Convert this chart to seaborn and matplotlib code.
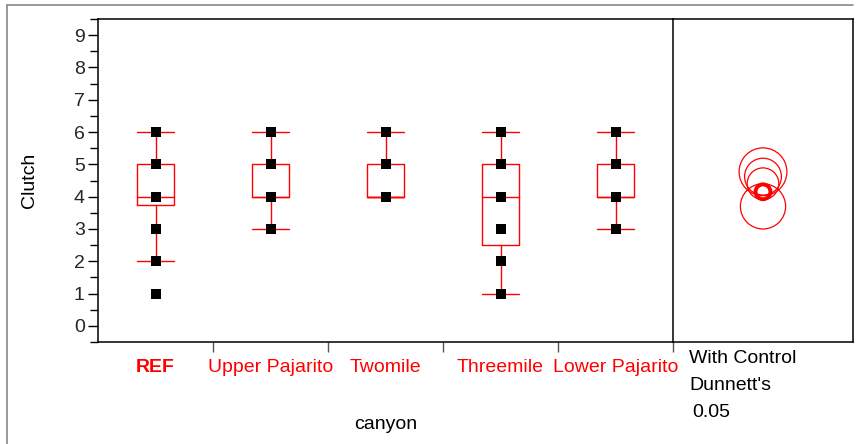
import numpy as np
import pandas as pd
import matplotlib
matplotlib.use("Agg")
import matplotlib.pyplot as plt
from matplotlib.lines import Line2D
from matplotlib.patches import Circle
import seaborn as sns

# ---- data ----
canyons = ["REF", "Upper Pajarito", "Twomile", "Threemile", "Lower Pajarito"]
pts_ref = [1, 2, 3, 4, 5, 6]
pts_upper = [3, 4, 5, 6]
pts_two = [4, 5, 6]
pts_three = [1, 2, 3, 4, 5, 6]
pts_lower = [3, 4, 5, 6]

q1 = [3.75, 4, 4, 2.5, 4]
med = [4, 4, 4, 4, 4]
q3 = [5, 5, 5, 5, 5]
whislo = [2, 3, 4, 1, 3]
whishi = [6, 6, 6, 6, 6]

circle_means = [4.77, 4.62, 4.40, 3.70, 4.15]
circle_radii = [0.74, 0.57, 0.49, 0.70, 0.23]
circle_bold = [False, False, False, False, True]

yticks = list(range(0, 10))

# ---- style ----
sns.set_theme(style="white")
plt.rcParams["font.family"] = ["Liberation Sans", "DejaVu Sans"]
FS = 14
RED = "#ff0000"

W, H = 857, 444
fig = plt.figure(figsize=(W / 100, H / 100), dpi=100)

L, R, T, B = 98, 673, 19, 342
R2 = 853
ax = fig.add_axes([L / W, 1 - B / H, (R - L) / W, (B - T) / H])
ax2 = fig.add_axes([R / W, 1 - B / H, (R2 - R) / W, (B - T) / H])

# points via seaborn
groups = [pts_ref, pts_upper, pts_two, pts_three, pts_lower]
df = pd.DataFrame({
    "canyon": [c for c, g in zip(canyons, groups) for _ in g],
    "Clutch": [v for g in groups for v in g],
})
sns.stripplot(data=df, x="canyon", y="Clutch", order=canyons, jitter=False,
              marker="s", color="black", size=7.5, linewidth=0, ax=ax, zorder=5)

# boxes
stats = []
for i in range(len(canyons)):
    stats.append(dict(med=med[i], q1=q1[i], q3=q3[i], whislo=whislo[i],
                      whishi=whishi[i], fliers=[]))
lp = dict(color=RED, linewidth=1.0)
ax.bxp(stats, positions=list(range(len(canyons))), widths=0.33, capwidths=0.33,
       showfliers=False, manage_ticks=False, boxprops=lp, whiskerprops=lp,
       capprops=lp, medianprops=lp, zorder=2)

ax.set_xlim(-0.5, len(canyons) - 0.5)
ax.set_ylim(-0.5, 9.5)
ax.set_xlabel("")
ax.set_ylabel("")

# y ticks
ax.set_yticks(yticks)
ax.set_yticks(np.arange(-0.5, 9.6, 1.0), minor=True)
ax.tick_params(axis="y", which="major", left=True, length=7.5, width=1.0,
               color="black", labelsize=FS, pad=2)
ax.tick_params(axis="y", which="minor", left=True, length=5.5, width=1.0,
               color="black")

# x ticks: boundaries as major ticks, labels at minor positions
ax.set_xticks(np.arange(0.5, len(canyons) - 0.5 + 0.01, 1.0))
ax.set_xticklabels([])
ax.set_xticks(range(len(canyons)), minor=True)
ax.set_xticklabels(canyons, minor=True)
ax.tick_params(axis="x", which="major", bottom=True, length=7.5, width=1.0,
               color="#555555")
ax.tick_params(axis="x", which="minor", bottom=True, length=0, pad=12.5,
               labelsize=FS, labelcolor=RED)
for lab in ax.get_xticklabels(minor=True):
    if lab.get_text() == "REF":
        lab.set_fontweight("bold")

for sp in ["top", "left", "bottom"]:
    ax.spines[sp].set_visible(True)
    ax.spines[sp].set_color("black")
    ax.spines[sp].set_linewidth(1.1)
ax.spines["right"].set_visible(False)

# comparison circles panel
scale = (B - T) / 10.0  # px per unit
ax2.set_xlim(0, (R2 - R) / scale)
ax2.set_ylim(-0.5, 9.5)
cx = (R2 - R) / scale / 2
for m, r, bold in zip(circle_means, circle_radii, circle_bold):
    ax2.add_patch(Circle((cx, m), r, fill=False, edgecolor=RED,
                         linewidth=2.8 if bold else 0.9))
ax2.set_xticks([])
ax2.set_yticks([])
for sp in ax2.spines.values():
    sp.set_visible(True)
    sp.set_color("black")
    sp.set_linewidth(1.1)

# texts
fig.text(30 / W, 1 - 180 / H, "Clutch", rotation=90, ha="center", va="center",
         fontsize=FS, color="black")
fig.text(385.5 / W, 1 - 424 / H, "canyon", ha="center", va="center",
         fontsize=FS, color="black")
fig.text(689 / W, 1 - 358 / H, "With Control", ha="left", va="center",
         fontsize=FS, color="black")
fig.text(689 / W, 1 - 385 / H, "Dunnett's", ha="left", va="center",
         fontsize=FS, color="black")
fig.text(692 / W, 1 - 412 / H, "0.05", ha="left", va="center",
         fontsize=FS, color="black")

# outer gray frame
fig.add_artist(Line2D([7 / W, 853 / W], [1 - 5 / H, 1 - 5 / H],
                      transform=fig.transFigure, color="#888888", linewidth=1.2))
fig.add_artist(Line2D([7 / W, 7 / W], [1 - 5 / H, 0],
                      transform=fig.transFigure, color="#888888", linewidth=1.2))

fig.savefig("out.png", dpi=100)
